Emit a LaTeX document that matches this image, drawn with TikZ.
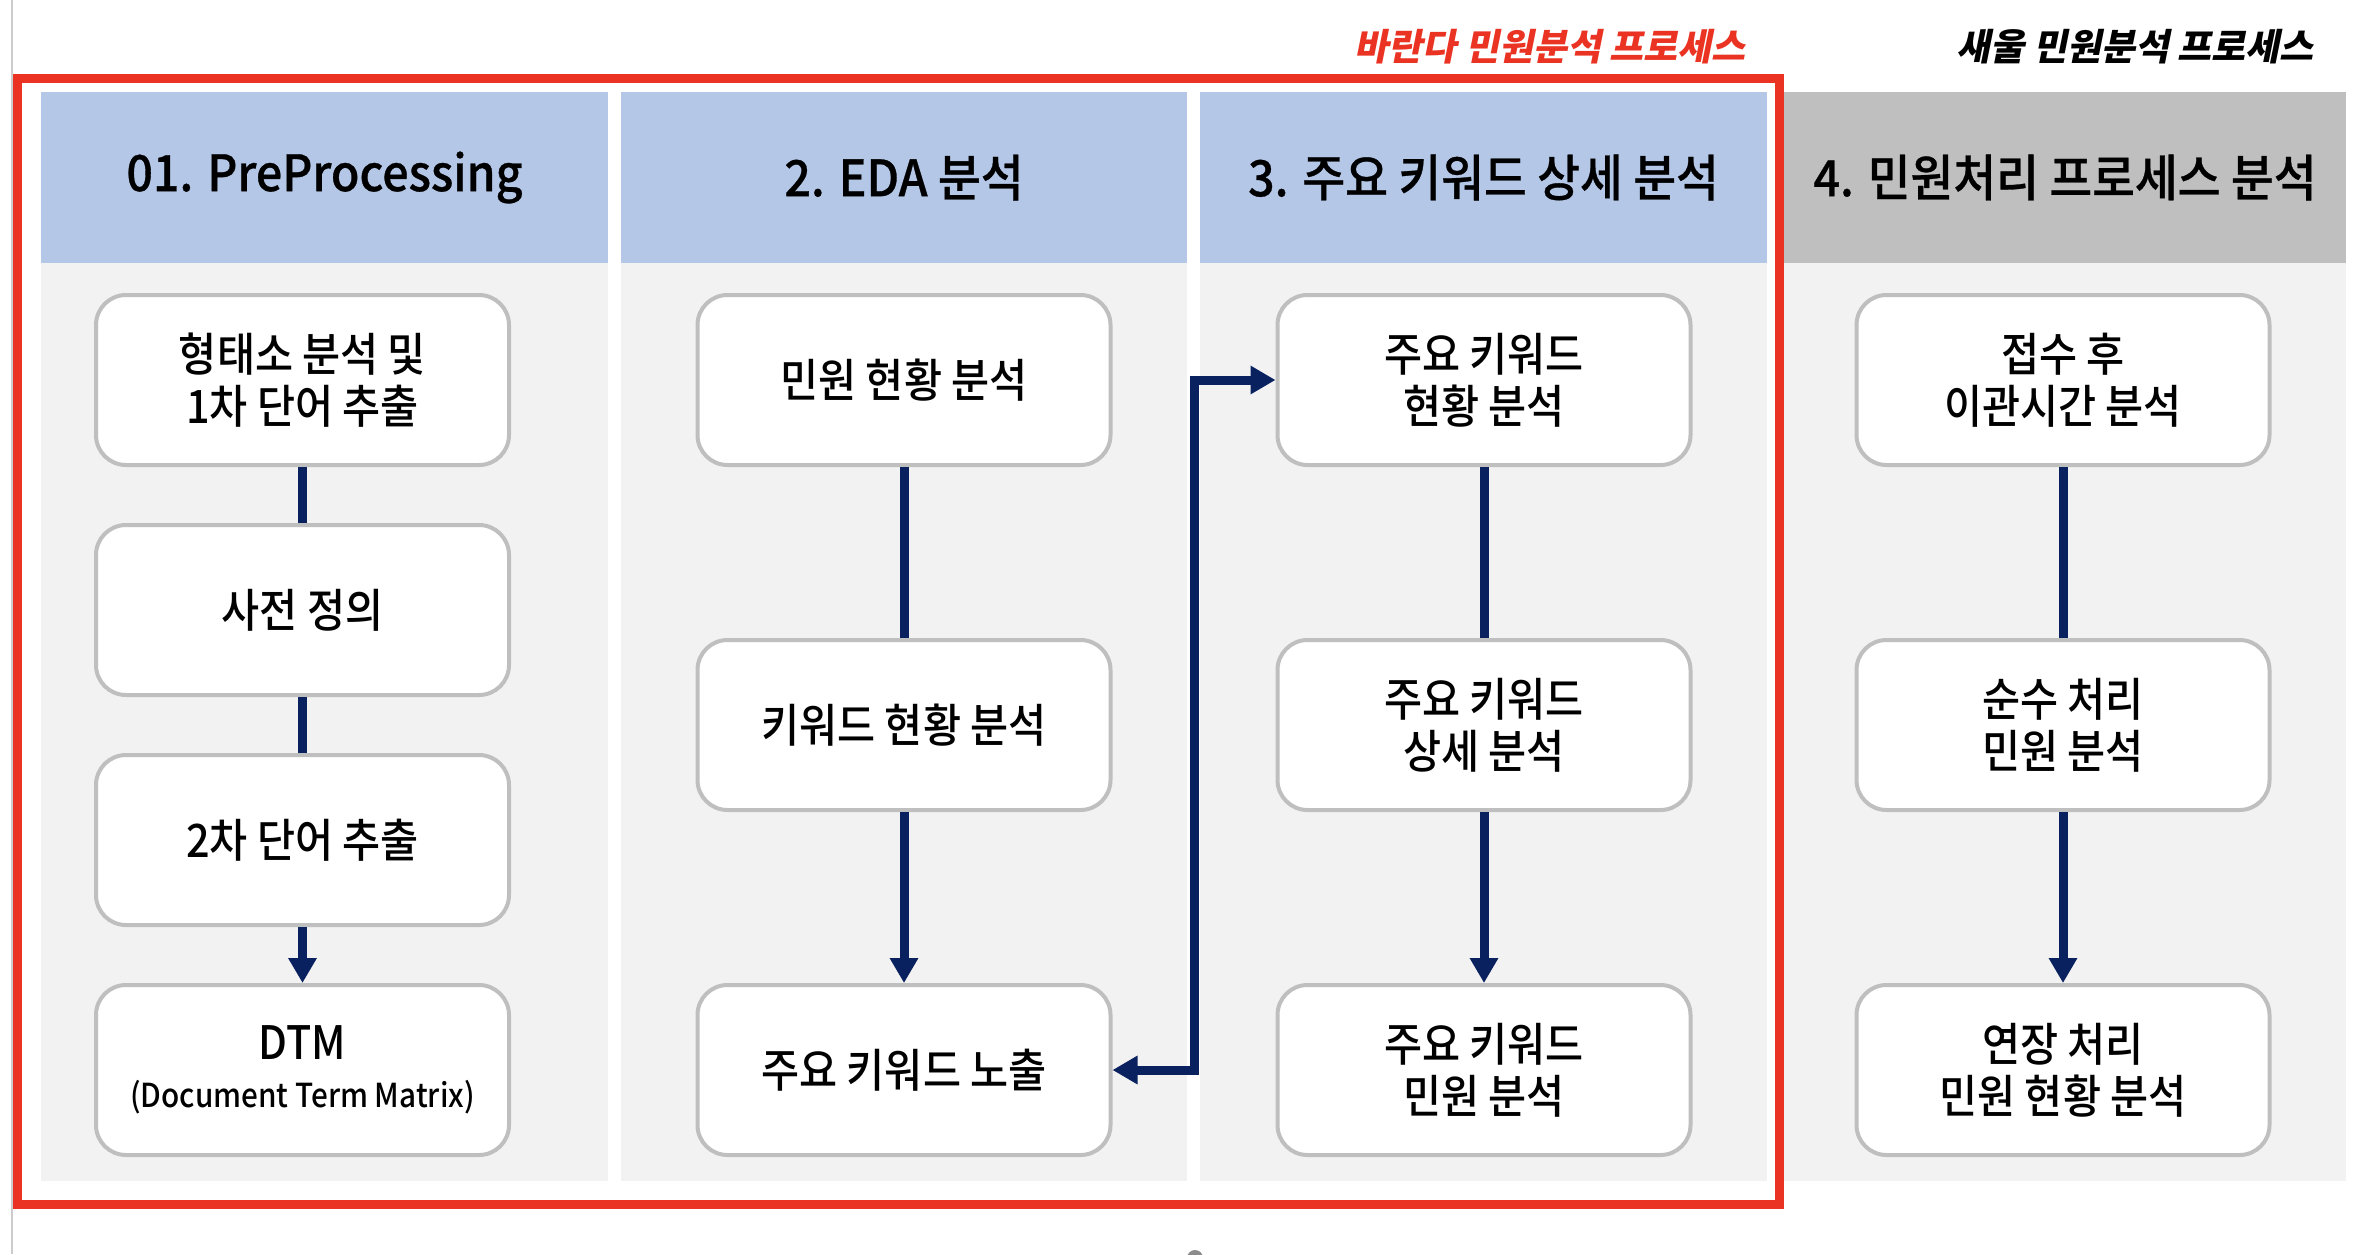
\documentclass[tikz,border=0pt]{standalone}
\usepackage{fontspec}
\setmainfont{Noto Sans CJK KR}
\newfontfamily\kr{Noto Sans CJK KR Medium}[FakeStretch=0.9]
\newfontfamily\krhead{Noto Sans CJK KR Medium}[FakeStretch=0.93, FakeBold=0.6]
\newfontfamily\krtitle{Noto Sans CJK KR}[FakeSlant=0.2]
\usetikzlibrary{arrows.meta}
\definecolor{hdrblue}{HTML}{B4C7E7}
\definecolor{hdrgray}{HTML}{BFBFBF}
\definecolor{bodygray}{HTML}{F2F2F2}
\definecolor{boxline}{HTML}{BFBFBF}
\definecolor{navy}{HTML}{0A2160}
\definecolor{redframe}{HTML}{EA3323}
\begin{document}
\begin{tikzpicture}[x=0.5pt,y=-0.5pt,
  stepbox/.style={draw=boxline, line width=2pt, fill=white, rounded corners=15pt,
    minimum width=206.5pt, minimum height=85pt, align=center, inner sep=0pt,
    font=\kr\fontsize{23pt}{26pt}\selectfont},
  hdr/.style={minimum height=85.5pt, inner sep=0pt,
    font=\krhead\fontsize{25pt}{28pt}\selectfont},
  conn/.style={draw=navy, line width=4.5pt, line join=miter},
  tip/.style={-{Triangle[length=12.5pt,width=13.5pt]}},
  ttl/.style={anchor=east, font=\krtitle\bfseries\fontsize{18.5pt}{22pt}\selectfont}
]
\useasboundingbox (0,0) rectangle (2360,1254);
\fill[white] (0,0) rectangle (2360,1254);
% thin left rule
\draw[black!20, line width=0.8pt] (12,0) -- (12,1254);
% column bodies
\fill[bodygray] (41,263) rectangle (608,1181);
\fill[bodygray] (621,263) rectangle (1187,1181);
\fill[bodygray] (1200,263) rectangle (1767,1181);
\fill[bodygray] (1784,263) rectangle (2346,1181);
% headers
\node[hdr, fill=hdrblue, minimum width=283.5pt] (h1) at (324.5,177.5) {01. PreProcessing};
\node[hdr, fill=hdrblue, minimum width=283pt] (h2) at (904,177.5) {2. EDA 분석};
\node[hdr, fill=hdrblue, minimum width=283.5pt] (h3) at (1483.5,177.5) {3. 주요 키워드 상세 분석};
\node[hdr, fill=hdrgray, minimum width=281pt] (h4) at (2065,177.5) {4. 민원처리 프로세스 분석};
% red frame
\draw[redframe, line width=4.5pt] (17,78) rectangle (1779,1204);
% titles
\node[ttl, text=redframe] (t1) at (1753,47) {바란다 민원분석 프로세스};
\node[ttl, text=black] (t2) at (2321,47) {새울 민원분석 프로세스};
% column 1
\node[stepbox] (c1a) at (302.5,380) {형태소 분석 및\\1차 단어 추출};
\node[stepbox] (c1b) at (302.5,610) {사전 정의};
\node[stepbox] (c1c) at (302.5,840) {2차 단어 추출};
\node[stepbox] (c1d) at (302.5,1070) {DTM\\[-2pt]{\fontsize{16.5pt}{19pt}\selectfont (Document Term Matrix)}};
% column 2
\node[stepbox] (c2a) at (904,380) {민원 현황 분석};
\node[stepbox] (c2b) at (904,725) {키워드 현황 분석};
\node[stepbox] (c2c) at (904,1070) {주요 키워드 노출};
% column 3
\node[stepbox] (c3a) at (1484,380) {주요 키워드\\현황 분석};
\node[stepbox] (c3b) at (1484,725) {주요 키워드\\상세 분석};
\node[stepbox] (c3c) at (1484,1070) {주요 키워드\\민원 분석};
% column 4
\node[stepbox] (c4a) at (2063,380) {접수 후\\이관시간 분석};
\node[stepbox] (c4b) at (2063,725) {순수 처리\\민원 분석};
\node[stepbox] (c4c) at (2063,1070) {연장 처리\\민원 현황 분석};
% connectors
\draw[conn] (c1a.south) -- (c1b.north);
\draw[conn] (c1b.south) -- (c1c.north);
\draw[conn, tip] (c1c.south) -- (c1d.north);
\draw[conn] (c2a.south) -- (c2b.north);
\draw[conn, tip] (c2b.south) -- (c2c.north);
\draw[conn] (c3a.south) -- (c3b.north);
\draw[conn, tip] (c3b.south) -- (c3c.north);
\draw[conn] (c4a.south) -- (c4b.north);
\draw[conn, tip] (c4b.south) -- (c4c.north);
\coordinate (vx) at (1194,0);
\draw[conn, {Triangle[length=12.5pt,width=13.5pt]}-{Triangle[length=12.5pt,width=13.5pt]}]
  (c2c.east) -- (c2c.east -| vx) -- (c3a.west -| vx) -- (c3a.west);
% partial mark at bottom edge
\fill[black!45] (1195,1258) circle (8);
\end{tikzpicture}
\end{document}
